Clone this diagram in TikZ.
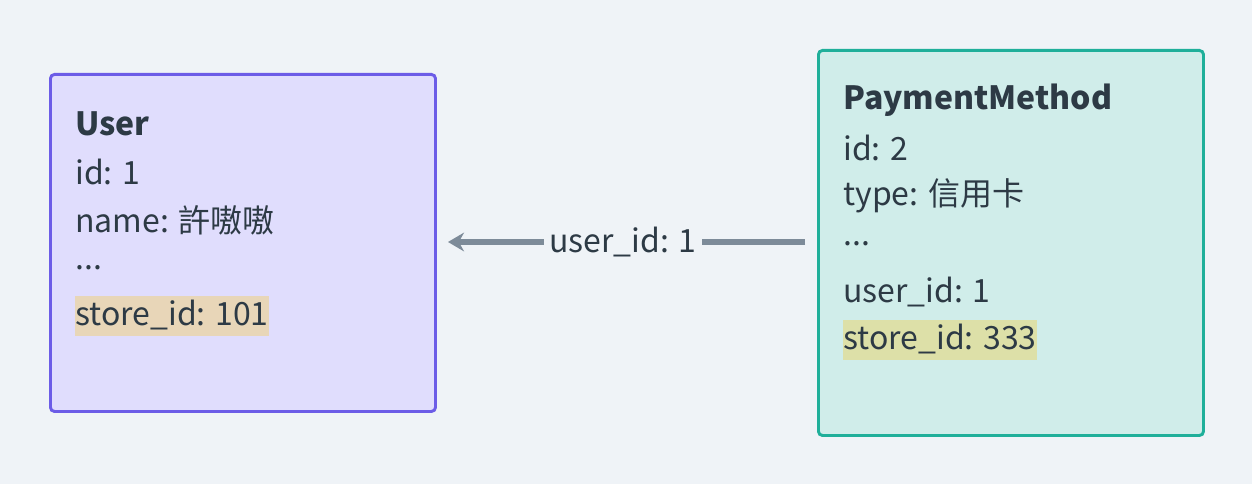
\documentclass[tikz,border=0pt]{standalone}
\usepackage{fontspec}
\usetikzlibrary{arrows.meta}
\setmainfont{Noto Sans CJK TC}
\definecolor{bg}{HTML}{EFF3F7}
\definecolor{ufill}{HTML}{E0DDFD}
\definecolor{uline}{HTML}{6C5CE7}
\definecolor{pfill}{HTML}{D0EDEA}
\definecolor{pline}{HTML}{1FAF9A}
\definecolor{hl1}{HTML}{E8D6B8}
\definecolor{hl2}{HTML}{DDE0A8}
\definecolor{txt}{HTML}{2D3A45}
\definecolor{arr}{HTML}{7D8B99}
\begin{document}
\begin{tikzpicture}[x=0.75pt,y=-0.75pt,
  box/.style={rounded corners=3pt,line width=2.2pt},
  t/.style={anchor=west,inner sep=0pt,text=txt,font=\fontsize{24}{28}\selectfont},
  hl/.style={t,fill=#1,inner xsep=0pt,inner ysep=3pt,text height=19pt,text depth=5pt}]
\fill[bg] (0,0) rectangle (1252,484);
\node[box,draw=uline,fill=ufill,minimum width=385*0.75pt,minimum height=337*0.75pt,anchor=north west] (user) at (49,73) {};
\node[box,draw=pline,fill=pfill,minimum width=385*0.75pt,minimum height=385*0.75pt,anchor=north west] (pm) at (817,49) {};
\node[t,font=\fontsize{24}{28}\selectfont\bfseries] (u1) at (75,124) {User};
\node[t] (u2) at (75,172) {id: 1};
\node[t] (u3) at (75,220) {name: 許嗷嗷};
\node[t] (u4) at (75,268) {...};
\node[hl=hl1] (u5) at (75,316) {store\_id: 101};
\node[t,font=\fontsize{24}{28}\selectfont\bfseries] (p1) at (843,100) {PaymentMethod};
\node[t] (p2) at (843,148) {id: 2};
\node[t] (p3) at (843,196) {type: 信用卡};
\node[t] (p4) at (843,244) {...};
\node[t] (p5) at (843,292) {user\_id: 1};
\node[hl=hl2] (p6) at (843,340) {store\_id: 333};
\coordinate (a1) at (805,242);
\coordinate (a2) at (448,242);
\draw[arr,line width=4pt,-{Stealth[length=12pt,width=14pt]}] (a1) -- (a2)
  node[pos=0.51,fill=bg,text=txt,inner sep=4pt,font=\fontsize{24}{28}\selectfont] (lab) {user\_id: 1};
\end{tikzpicture}
\end{document}
